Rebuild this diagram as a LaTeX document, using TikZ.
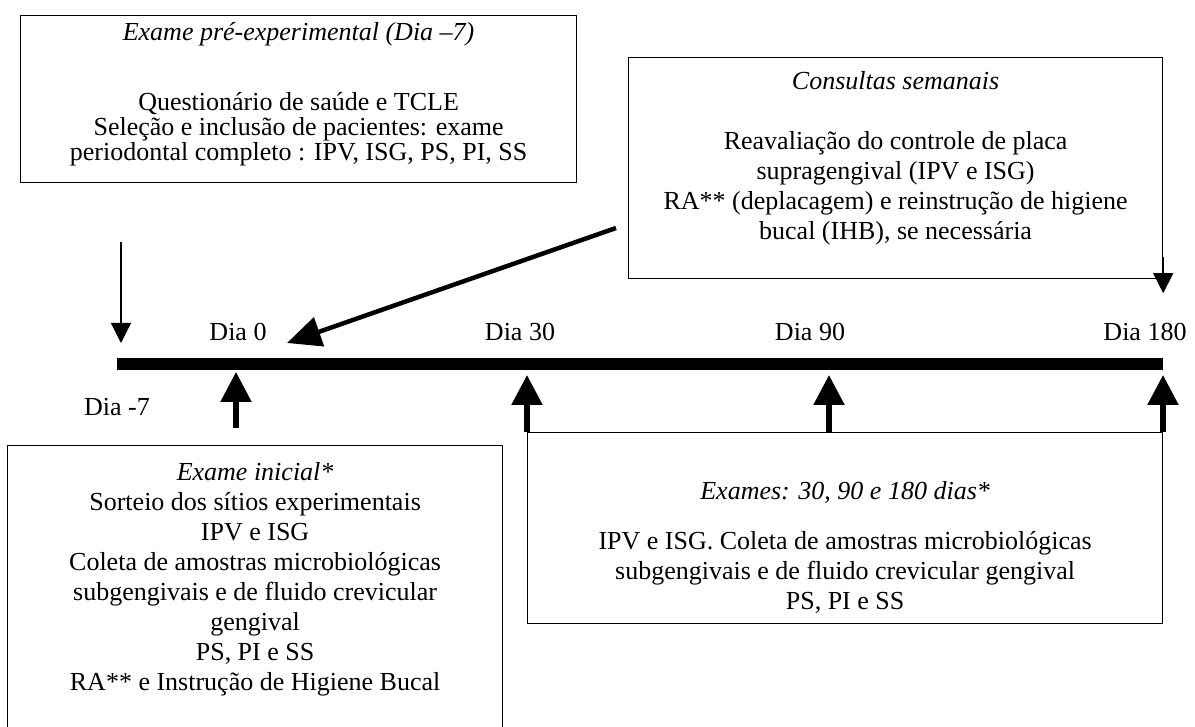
\documentclass[tikz,border=0pt]{standalone}
\usepackage{fontspec}
\setmainfont{Liberation Serif}
\usetikzlibrary{arrows.meta}

\begin{document}
\begin{tikzpicture}[x=1pt,y=-1pt,
    box/.style={draw,line width=1.2pt,anchor=north west,inner sep=0pt},
    txt/.style={anchor=north,align=center,inner sep=0pt,font=\fontsize{26}{30}\selectfont},
    lbl/.style={anchor=base,inner sep=0pt,font=\fontsize{26}{30}\selectfont},
    thinarr/.style={line width=1.2pt,-{Triangle[length=20pt,width=20pt]}},
    bigarr/.style={line width=5.5pt,-{Triangle[length=30pt,width=30pt]}}]
    \useasboundingbox (0,0) rectangle (1195,727);
    % Boxes
    \node[box,minimum width=556,minimum height=167] (pre) at (20,15) {};
    \node[txt,font=\fontsize{26}{25}\selectfont] (pretxt) at ([yshift=-7]pre.north)
        {\textit{Exame pré-experimental (Dia –7)}\\[45pt]
        Questionário de saúde e TCLE\\ Seleção e inclusão de pacientes: exame\\
        periodontal completo : IPV, ISG, PS, PI, SS};
    \node[box,minimum width=534,minimum height=221] (cons) at (628,57) {};
    \node[txt] (constxt) at ([yshift=-14]cons.north) {\textit{Consultas semanais}\\[30pt]
        Reavaliação do controle de placa\\ supragengival (IPV e ISG)\\
        RA** (deplacagem) e reinstrução de higiene\\ bucal (IHB), se necessária};
    \node[box,minimum width=495,minimum height=290] (ini) at (7,445) {};
    \node[txt] (initxt) at ([yshift=-17]ini.north) {\textit{Exame inicial*}\\
        Sorteio dos sítios experimentais\\ IPV e ISG\\
        Coleta de amostras microbiológicas\\ subgengivais e de fluido crevicular\\
        gengival\\ PS, PI e SS\\ RA** e Instrução de Higiene Bucal};
    \node[box,minimum width=635,minimum height=191] (exa) at (527,432) {};
    \node[txt] (exatxt) at ([yshift=-49]exa.north) {\textit{Exames: 30, 90 e 180 dias*}\\[20pt]
        IPV e ISG. Coleta de amostras microbiológicas\\
        subgengivais e de fluido crevicular gengival\\ PS, PI e SS};
    % Timeline
    \coordinate (dm7) at (121,364);
    \coordinate (d0) at (236,364);
    \coordinate (d30) at (527,364);
    \coordinate (d90) at (829,364);
    \coordinate (d180) at (1163,364);
    \draw[line width=12pt] (117,364) -- (d180);
    % Labels
    \node[lbl] (lm7) at (117,416) {Dia -7};
    \node[lbl] (l0) at (238,341) {Dia 0};
    \node[lbl] (l30) at (520,341) {Dia 30};
    \node[lbl] (l90) at (810,341) {Dia 90};
    \node[lbl] (l180) at (1145,341) {Dia 180};
    % Arrows
    \coordinate (pm) at (121,242);
    \draw[thinarr] (pm) -- ([yshift=21]dm7);
    \draw[thinarr] ([yshift=22]cons.south east) -- ([yshift=-14]cons.south east);
    \coordinate (cs) at (616,228);
    \draw[line width=4.5pt,-{Triangle[length=34pt,width=30pt]}] (cs) -- (287,343);
    \coordinate (d0b) at (236,428);
    \draw[bigarr] (d0b) -- ([yshift=-8]d0);
    \foreach \d in {d30,d90,d180} {
        \draw[bigarr] (exa.north -| \d) -- ([yshift=-11]\d);
    }
\end{tikzpicture}
\end{document}
